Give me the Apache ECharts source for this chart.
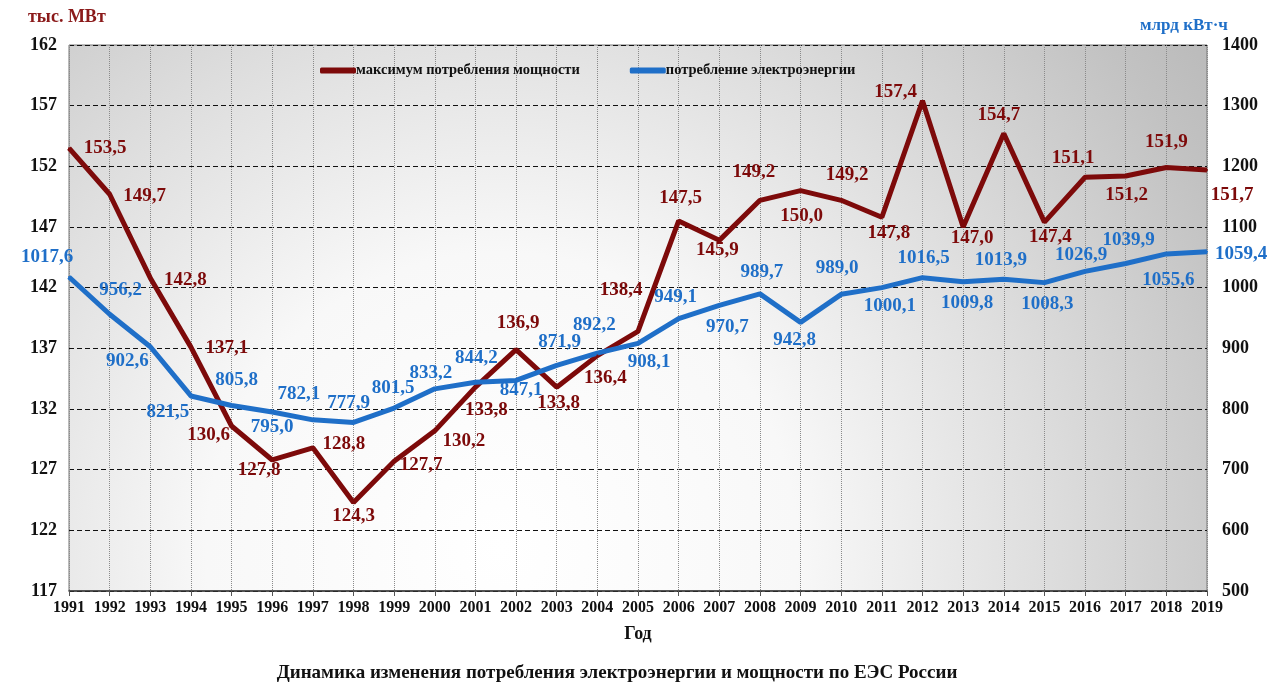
<!DOCTYPE html>
<html>
<head>
<meta charset="utf-8">
<script src="https://cdn.jsdelivr.net/npm/echarts@6/dist/echarts.min.js"></script>
<style>
  html, body { margin: 0; padding: 0; background: #fff; }
  #chart { width: 1280px; height: 698px; }
</style>
</head>
<body>
<div id="chart"></div>
<script>
// годы
const years = ['1991','1992','1993','1994','1995','1996','1997','1998','1999','2000',
  '2001','2002','2003','2004','2005','2006','2007','2008','2009','2010',
  '2011','2012','2013','2014','2015','2016','2017','2018','2019'];

// максимум потребления мощности, тыс. МВт
const powerMax = [153.5, 149.7, 142.8, 137.1, 130.6, 127.8, 128.8, 124.3, 127.7, 130.2,
  133.8, 136.9, 133.8, 136.4, 138.4, 147.5, 145.9, 149.2, 150.0, 149.2,
  147.8, 157.4, 147.0, 154.7, 147.4, 151.1, 151.2, 151.9, 151.7];

// потребление электроэнергии, млрд кВт·ч
const energy = [1017.6, 956.2, 902.6, 821.5, 805.8, 795.0, 782.1, 777.9, 801.5, 833.2,
  844.2, 847.1, 871.9, 892.2, 908.1, 949.1, 970.7, 989.7, 942.8, 989.0,
  1000.1, 1016.5, 1009.8, 1013.9, 1008.3, 1026.9, 1039.9, 1055.6, 1059.4];

const leftTicks = [117, 122, 127, 132, 137, 142, 147, 152, 157, 162];

// сдвиги подписей (где стоит текст относительно точки)
const powerLabelShift = [[36,0],[35,2],[35,2],[36,1],[-23,9],[-13,10],[31,-4],[0,14],[27,4],[29,10],
  [11,23],[2,-26],[2,16],[8,22],[-17,-41],[2,-23],[-2,10],[-6,-28],[1,25],[6,-25],
  [7,16],[-27,-9],[9,11],[-5,-18],[6,15],[-12,-19],[1,19],[0,-25],[25,25]];
const energyLabelShift = [[-22,-20],[11,-24],[-23,14],[-23,16],[5,-25],[0,15],[-14,-26],[-5,-19],[-1,-20],[-4,-16],
  [1,-24],[5,10],[3,-23],[-3,-28],[11,19],[-3,-21],[8,22],[2,-22],[-6,18],[-4,-26],
  [8,18],[1,-20],[4,21],[-3,-19],[3,21],[-4,-16],[3,-23],[2,26],[34,2]];

const RED = '#7d0a0a';
const BLUE = '#1f6fc8';
const FONT = 'Liberation Serif';

const fmt = v => v.toFixed(1).replace('.', ',');

const chart = echarts.init(document.getElementById('chart'));

const option = {
  backgroundColor: '#fff',
  animation: false,
  title: {
    text: 'Динамика изменения потребления электроэнергии и мощности по ЕЭС России',
    left: 612, top: 659, textAlign: 'center',
    textStyle: { fontFamily: FONT, fontWeight: 'bold', fontSize: 19, color: '#111' }
  },
  graphic: [
    { type: 'text', left: 28, top: 8,
      style: { text: 'тыс. МВт', font: 'bold 18px "Liberation Serif"', fill: '#8b1a1a' } },
    { type: 'text', left: 1140, top: 17,
      style: { text: 'млрд кВт·ч', font: 'bold 17px "Liberation Serif"', fill: BLUE } }
  ],
  legend: {
    left: 315, top: 58,
    itemWidth: 36, itemHeight: 6, itemGap: 50,
    textStyle: { fontFamily: FONT, fontWeight: 'bold', fontSize: 14.5, color: '#111', padding: [0,0,0,-5] },
    data: [
      { name: 'максимум потребления мощности', icon: 'roundRect' },
      { name: 'потребление электроэнергии', icon: 'roundRect' }
    ]
  },
  grid: {
    left: 69, right: 73, top: 45, bottom: 107,
    show: true,
    borderColor: '#777', borderWidth: 1,
    backgroundColor: {
      type: 'radial', x: 0.38, y: 0.92, r: 1.8,
      colorStops: [
        { offset: 0, color: '#ffffff' },
        { offset: 0.3, color: '#f8f8f8' },
        { offset: 0.55, color: '#dedede' },
        { offset: 0.8, color: '#c2c2c2' },
        { offset: 1, color: '#b0b0b0' }
      ]
    }
  },
  xAxis: {
    type: 'category',
    data: years,
    boundaryGap: false,
    name: 'Год',
    nameLocation: 'middle',
    nameGap: 34,
    nameTextStyle: { fontFamily: FONT, fontWeight: 'bold', fontSize: 18, color: '#111' },
    axisLine: { lineStyle: { color: '#333', width: 1.5 } },
    axisTick: { show: true, interval: 0, length: 5, lineStyle: { color: '#555' } },
    axisLabel: { interval: 0, hideOverlap: false, fontFamily: FONT, fontWeight: 'bold', fontSize: 16, color: '#111', margin: 9 },
    splitLine: { show: true, interval: 0, lineStyle: { color: '#8a8a8a', type: 'dotted', width: 1 } }
  },
  yAxis: [
    {
      type: 'value', min: 117, max: 162,
      axisLine: { show: false },
      axisTick: { show: false, customValues: leftTicks },
      axisLabel: { customValues: leftTicks, fontFamily: FONT, fontWeight: 'bold', fontSize: 18, color: '#111', margin: 12 },
      splitLine: { show: true, lineStyle: { color: '#111', type: [5, 3], width: 1.2 } }
    },
    {
      type: 'value', min: 500, max: 1400, interval: 100,
      position: 'right',
      axisLine: { show: false },
      axisTick: { show: false },
      axisLabel: { fontFamily: FONT, fontWeight: 'bold', fontSize: 18, color: '#111', margin: 15,
        formatter: v => String(v) },
      splitLine: { show: false }
    }
  ],
  series: [
    {
      name: 'максимум потребления мощности',
      type: 'line',
      yAxisIndex: 0,
      symbol: 'circle', symbolSize: 2,
      itemStyle: { color: RED },
      lineStyle: { color: RED, width: 5 },
      label: {
        show: true, position: 'inside', align: 'center', verticalAlign: 'middle',
        fontFamily: FONT, fontWeight: 'bold', fontSize: 19, color: RED,
        formatter: p => fmt(p.value)
      },
      data: powerMax.map((v, i) => ({ value: v, label: { offset: powerLabelShift[i] } }))
    },
    {
      name: 'потребление электроэнергии',
      type: 'line',
      yAxisIndex: 1,
      symbol: 'circle', symbolSize: 2,
      itemStyle: { color: BLUE },
      lineStyle: { color: BLUE, width: 5 },
      label: {
        show: true, position: 'inside', align: 'center', verticalAlign: 'middle',
        fontFamily: FONT, fontWeight: 'bold', fontSize: 19, color: BLUE,
        formatter: p => fmt(p.value)
      },
      data: energy.map((v, i) => ({ value: v, label: { offset: energyLabelShift[i] } }))
    }
  ]
};

chart.setOption(option);
</script>
</body>
</html>
